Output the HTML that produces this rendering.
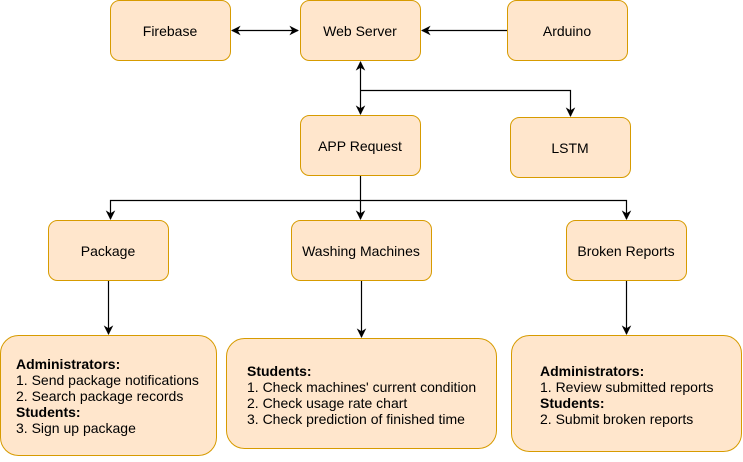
<!DOCTYPE html>
<html><head><style>
body{margin:0;background:#fff;}
svg text{font-family:"Liberation Sans",Arial,sans-serif;font-size:14px;fill:#000;}
</style></head><body>
<svg width="743" height="457" viewBox="0 0 743 457" xmlns="http://www.w3.org/2000/svg">
<defs>
<marker id="a" viewBox="0 0 10 10" refX="9" refY="5" markerWidth="8" markerHeight="8" orient="auto-start-reverse"><path d="M0,0 L10,5 L0,10 L3,5 Z" fill="#000"/></marker>
</defs>
<g fill="#ffe6cc" stroke="#d79b00" stroke-width="1">
<rect x="110.5" y="0.5" width="120" height="60" rx="9"/>
<rect x="300.5" y="0.5" width="120" height="60" rx="9"/>
<rect x="507.5" y="0.5" width="120" height="60" rx="9"/>
<rect x="300.5" y="115.5" width="120" height="60" rx="9"/>
<rect x="510.5" y="117.5" width="120" height="60" rx="9"/>
<rect x="48.5" y="220.5" width="120" height="60" rx="9"/>
<rect x="291.5" y="220.5" width="140" height="60" rx="9"/>
<rect x="566.5" y="220.5" width="120" height="60" rx="9"/>
<rect x="0.5" y="335.5" width="216" height="120" rx="18"/>
<rect x="226.5" y="338.5" width="270" height="110" rx="18"/>
<rect x="511.5" y="335.5" width="230" height="116" rx="18"/>
</g>
<g stroke="#000" stroke-width="1.2" fill="none">
<path d="M232,30.5 H298" marker-start="url(#a)" marker-end="url(#a)"/>
<path d="M507,30.5 H422" marker-end="url(#a)"/>
<path d="M360.5,114 V62" marker-start="url(#a)" marker-end="url(#a)"/>
<path d="M360.5,90.5 H570.5 V116" marker-end="url(#a)"/>
<path d="M360.5,176 V219" marker-end="url(#a)"/>
<path d="M360.5,200.5 H110.5 V219" marker-end="url(#a)"/>
<path d="M360.5,200.5 H626.5 V219" marker-end="url(#a)"/>
<path d="M108.5,281 V334" marker-end="url(#a)"/>
<path d="M361.5,281 V337" marker-end="url(#a)"/>
<path d="M626.5,281 V334" marker-end="url(#a)"/>
</g>
<g text-anchor="middle">
<text x="170" y="36">Firebase</text>
<text x="360" y="36">Web Server</text>
<text x="567" y="36">Arduino</text>
<text x="360" y="151">APP Request</text>
<text x="570" y="153">LSTM</text>
<text x="108" y="256">Package</text>
<text x="361" y="256">Washing Machines</text>
<text x="626" y="256">Broken Reports</text>
</g>
<text x="16" y="369" font-weight="bold">Administrators:</text>
<text x="16" y="385">1. Send package notifications</text>
<text x="16" y="401">2. Search package records</text>
<text x="16" y="417" font-weight="bold">Students:</text>
<text x="16" y="433">3. Sign up package</text>
<text x="247" y="376" font-weight="bold">Students:</text>
<text x="247" y="392">1. Check machines' current condition</text>
<text x="247" y="408">2. Check usage rate chart</text>
<text x="247" y="424">3. Check prediction of finished time</text>
<text x="540" y="376" font-weight="bold">Administrators:</text>
<text x="540" y="392">1. Review submitted reports</text>
<text x="540" y="408" font-weight="bold">Students:</text>
<text x="540" y="424">2. Submit broken reports</text>
</svg>
</body></html>
